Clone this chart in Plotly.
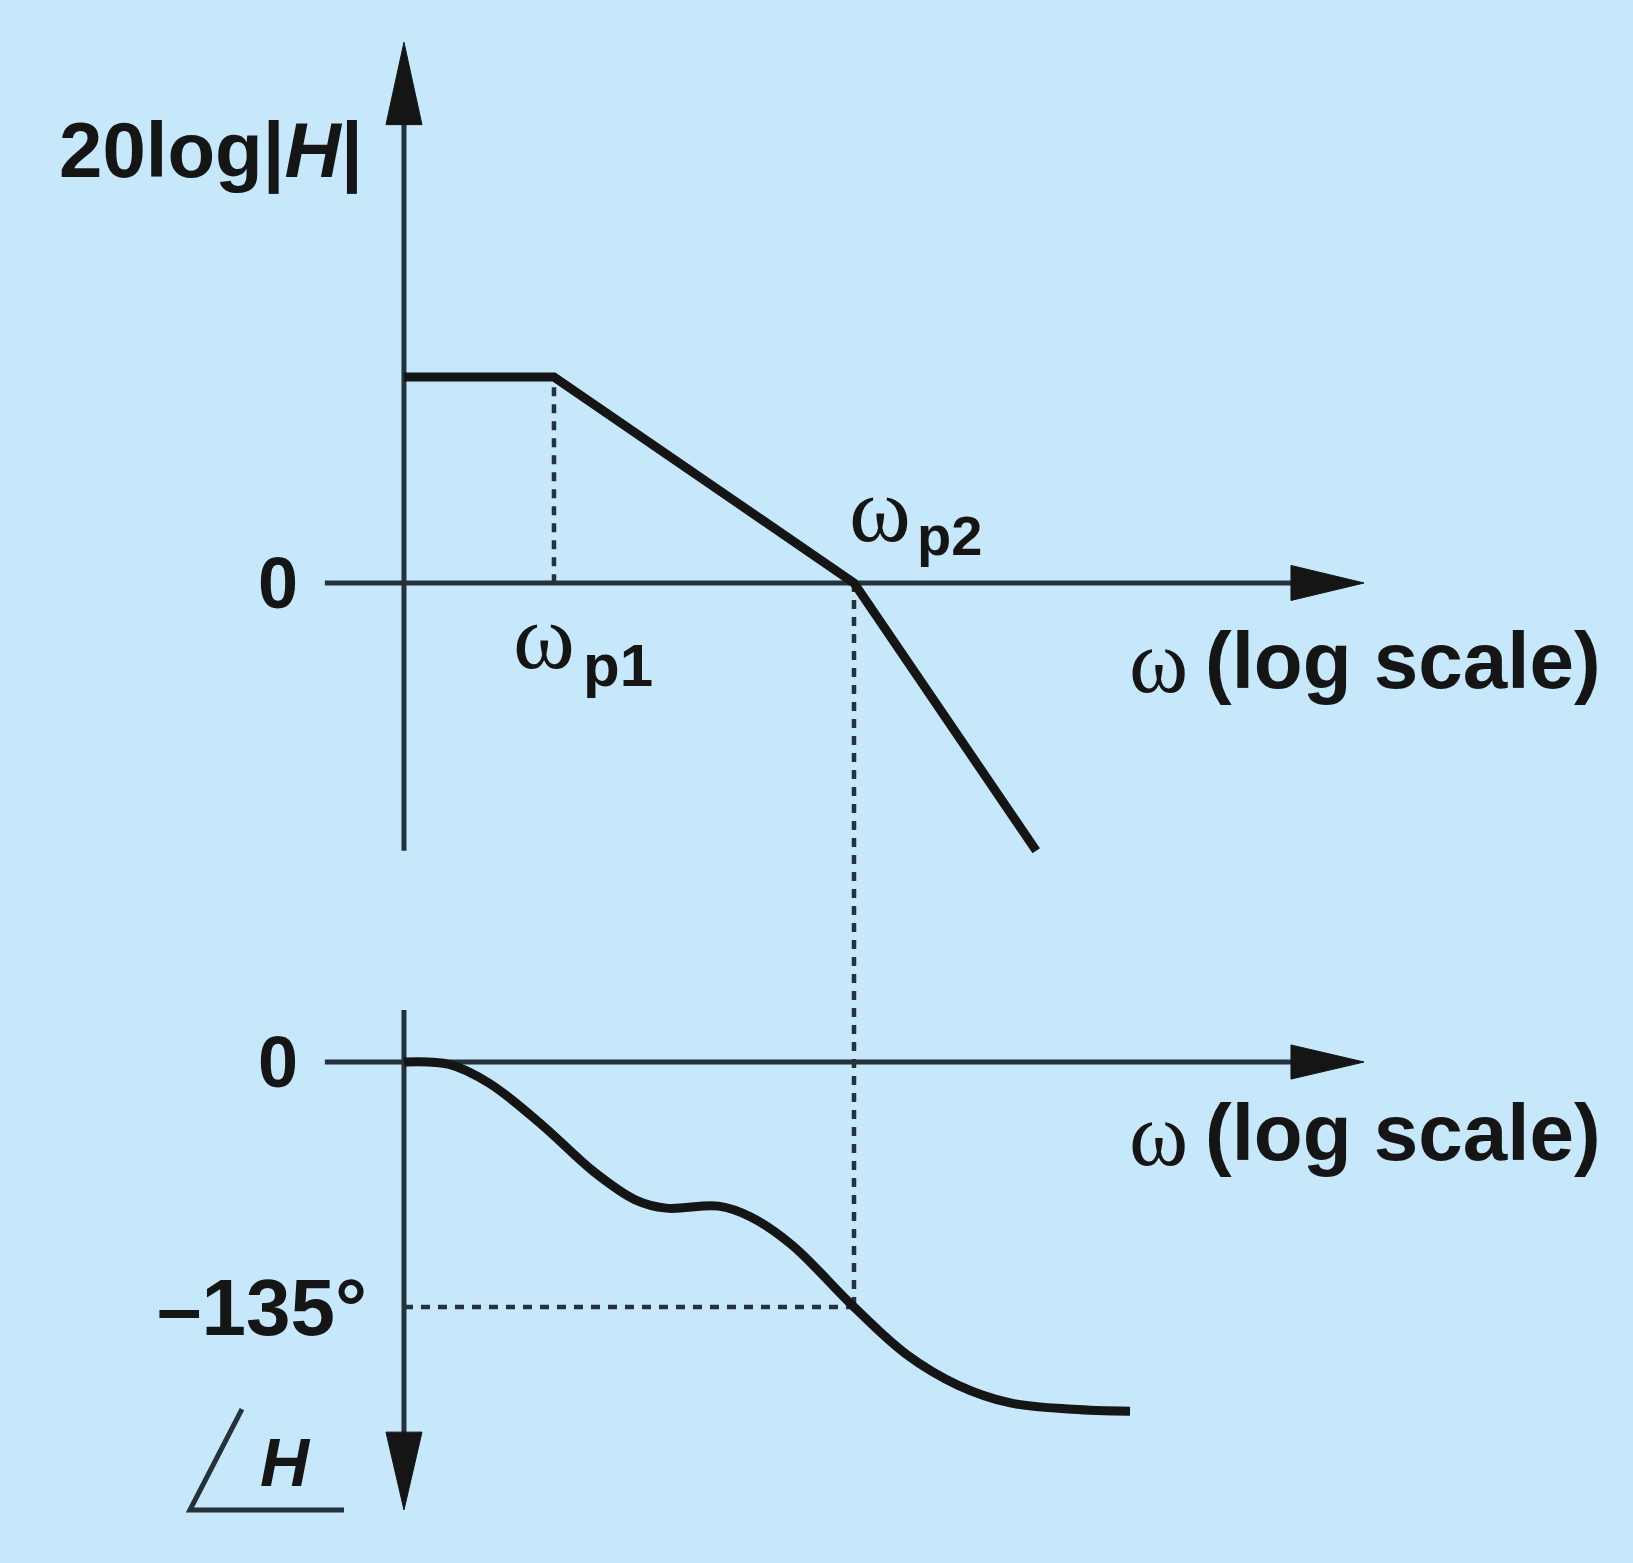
import math
import plotly.graph_objects as go

# ---------------- data ----------------
# magnitude asymptotes (omega in rad/s, gain in dB)
mag_w = [1, 10, 1000, 16400]
mag_db = [40, 40, 0, -52]
w_p1 = 10
w_p2 = 1000
pm_deg = -135

# phase response (degrees)
ph_w = [1, 2, 3.7, 8.3, 18.4, 34.8, 56, 125, 202, 383, 1000, 2223, 4955, 11015, 28700, 69200]
ph_deg = [0, -1.3, -11.7, -34.6, -60.4, -75.9, -80.5, -79.4, -85.1, -100.6, -135, -160.9, -178.1, -187.8, -191.3, -192.4]

# axis extents
w_axis = 1
w_start = 0.297
w_end = 10 ** 6.4
mag_axis_lo, mag_axis_hi = -52, 105
ph_axis_hi, ph_axis_lo = 28.6, -246.8

# ---------------- layout ranges ----------------
XR = [-2.693, 8.193]          # log10 omega
YM = [-190.3, 113.2]          # dB
YP = [-276.0, 585.1]          # degrees

def ph_to_db(p):
    f = (p - YP[0]) / (YP[1] - YP[0])
    return YM[0] + f * (YM[1] - YM[0])

INK = "#151515"
AX = "#25323b"
BG = "#c6e8fa"
FONT = "Liberation Sans, Arial, sans-serif"
SERIF = "Liberation Serif, Times New Roman, serif"

fig = go.Figure()

def line(x, y, axis="y", color=INK, width=9, dash=None, shape="linear"):
    fig.add_trace(go.Scatter(x=x, y=y, mode="lines", yaxis=axis, hoverinfo="skip",
                             line=dict(color=color, width=width, dash=dash, shape=shape),
                             showlegend=False))

def tri(x, y, axis="y"):
    fig.add_trace(go.Scatter(x=x, y=y, mode="lines", yaxis=axis, fill="toself",
                             fillcolor=INK, line=dict(color=INK, width=1),
                             hoverinfo="skip", showlegend=False))

# ----- magnitude plot axes -----
line([w_axis, w_axis], [mag_axis_lo, 89], color=AX, width=5)
tri([10 ** -0.12, 1, 10 ** 0.12, 10 ** -0.12], [89, mag_axis_hi, 89, 89])
line([w_start, 10 ** 5.95], [0, 0], color=AX, width=5)
tri([10 ** 5.913, w_end, 10 ** 5.913, 10 ** 5.913], [3.4, 0, -3.4, 3.4])

# dashed guides
line([w_p1, w_p1], [38, 0], color=AX, width=4.5, dash="9px,8px")
line([w_p2, w_p2], [0, ph_to_db(pm_deg)], color=AX, width=4.5, dash="9px,8px")

# magnitude curve
line(mag_w, mag_db, width=9)

# ----- phase plot axes -----
line([w_axis, w_axis], [ph_axis_hi, -205], axis="y2", color=AX, width=5)
tri([10 ** -0.12, 1, 10 ** 0.12, 10 ** -0.12], [-203.9, ph_axis_lo, -203.9, -203.9], axis="y2")
line([w_start, 10 ** 5.95], [0, 0], axis="y2", color=AX, width=5)
tri([10 ** 5.913, w_end, 10 ** 5.913, 10 ** 5.913], [9.4, 0, -9.4, 9.4], axis="y2")

line([w_axis, w_p2], [pm_deg, pm_deg], axis="y2", color=AX, width=4.5, dash="9px,8px")

line(ph_w, ph_deg, axis="y2", width=9, shape="spline")

# angle symbol
line([10 ** -1.08, 10 ** -1.427, 10 ** -0.4], [-191.2, -246.8, -246.8], axis="y2", color=AX, width=5)

# ---------------- text ----------------
ann = []
def txt(lw, y, t, size, yref="y", xanchor="center", family=FONT):
    ann.append(dict(x=lw, y=y, xref="x", yref=yref, text=t, showarrow=False,
                    xanchor=xanchor, yanchor="middle",
                    font=dict(family=family, size=size, color=INK)))

txt(-2.313, 84.1, "<b>20log|<i>H</i>|</b>", 78, xanchor="left")
txt(-0.84, 0, "<b>0</b>", 72)
txt(-0.84, 0, "<b>0</b>", 72, yref="y2")
# omega_p1
txt(0.933, -10.3, "ω", 94, family=SERIF)
txt(1.18, -16.1, "<b>p1</b>", 60, xanchor="left")
# omega_p2
txt(3.173, 14.3, "ω", 94, family=SERIF)
txt(3.407, 9.3, "<b>p2</b>", 56, xanchor="left")
# x-axis titles
txt(5.027, -15.3, "ω", 90, family=SERIF)
txt(5.327, -15.0, "<b>(log scale)</b>", 80, xanchor="left")
txt(5.027, -39.7, "ω", 90, yref="y2", family=SERIF)
txt(5.327, -38.6, "<b>(log scale)</b>", 80, yref="y2", xanchor="left")
txt(-0.23, pm_deg, "<b>–135°</b>", 80, yref="y2", xanchor="right")
txt(-0.793, -220.4, "<b><i>H</i></b>", 68, yref="y2")

fig.update_layout(
    width=1633, height=1563,
    margin=dict(l=0, r=0, t=0, b=0),
    paper_bgcolor=BG, plot_bgcolor=BG,
    xaxis=dict(type="log", range=XR, visible=False, domain=[0, 1]),
    yaxis=dict(range=YM, visible=False),
    yaxis2=dict(range=YP, visible=False, overlaying="y"),
    annotations=ann,
    showlegend=False,
)

fig.write_html("out.html", config={"displayModeBar": False},
               post_script="document.body.style.margin='0';document.body.style.overflow='hidden';")
